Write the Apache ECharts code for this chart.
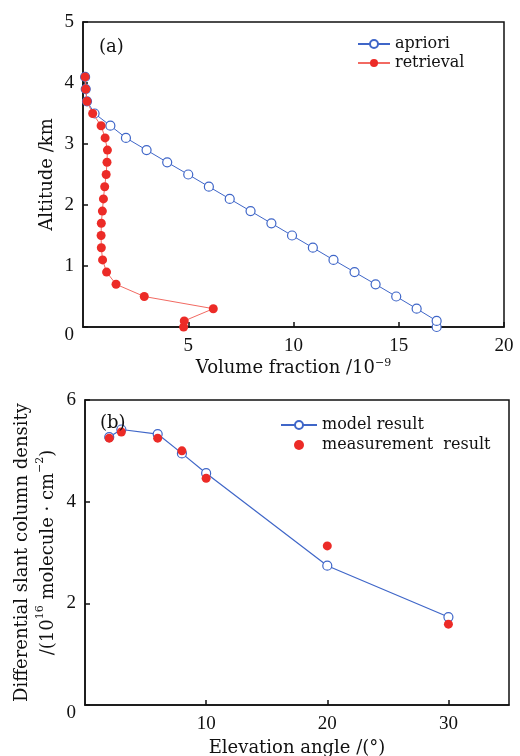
<!DOCTYPE html>
<html>
<head>
<meta charset="utf-8">
<script src="https://cdn.jsdelivr.net/npm/echarts@6/dist/echarts.min.js"></script>
<style>
  html, body { margin: 0; padding: 0; background: #fff; }
  #chart { width: 520px; height: 756px; }
</style>
</head>
<body>
<div id="chart"></div>
<script>
// (a) 廓线：高度 (km) 与体积分数 (10^-9)
const altitudes = [0, 0.1, 0.3, 0.5, 0.7, 0.9, 1.1, 1.3, 1.5, 1.7, 1.9, 2.1, 2.3, 2.5, 2.7, 2.9, 3.1, 3.3, 3.5, 3.7, 3.9, 4.1];
const aprioriVf = [16.8, 16.8, 15.85, 14.88, 13.9, 12.9, 11.9, 10.92, 9.93, 8.95, 7.96, 6.97, 5.98, 5.0, 4.0, 3.02, 2.04, 1.3, 0.55, 0.19, 0.13, 0.1];
const retrievalVf = [4.78, 4.81, 6.19, 2.91, 1.57, 1.12, 0.93, 0.87, 0.86, 0.87, 0.92, 0.97, 1.03, 1.1, 1.14, 1.16, 1.05, 0.86, 0.46, 0.19, 0.13, 0.1];

// (b) 差分斜柱浓度：仰角 (°)
const elevAngles = [2, 3, 6, 8, 10, 20, 30];
const modelDscd = [5.27, 5.42, 5.33, 4.95, 4.56, 2.74, 1.73];
const measDscd = [5.25, 5.37, 5.25, 5.0, 4.46, 3.13, 1.59];

const BLUE = '#3f66c8';
const RED = '#ec2b27';
const RED_LINE = '#f26a62';
const SERIF = '"DejaVu Serif", "Liberation Serif", serif';
const TICK_FONT = '"Liberation Serif", serif';

const pair = (xs, ys) => xs.map((x, i) => [x, ys[i]]);

const chart = echarts.init(document.getElementById('chart'));

const supStyle = { fontFamily: SERIF, fontSize: 11, verticalAlign: 'top', padding: [0, 0, 9, 0] };

const axisCommon = {
    axisLine: { show: true, onZero: false, lineStyle: { color: '#111', width: 1.5 } },
    axisTick: { show: true, inside: true, length: 5, lineStyle: { color: '#111', width: 1.5 } },
    splitLine: { show: false },
    axisLabel: { color: '#111', fontFamily: TICK_FONT, fontSize: 19 },
    nameTextStyle: { color: '#111', fontFamily: SERIF, fontSize: 18 },
    nameMoveOverlap: false
};

// 0 标签放在坐标原点左下方（与原图一致）
const yLabel = {
    ...axisCommon.axisLabel, margin: 9,
    formatter: v => (v === 0 ? '{z|0}' : String(v)),
    rich: { z: { fontFamily: TICK_FONT, fontSize: 19, color: '#111', padding: [16, 0, 0, 0] } }
};

const gridCommon = {
    show: true, borderColor: '#111', borderWidth: 1.5, backgroundColor: 'transparent',
    containLabel: false, outerBoundsMode: 'none'
};

const option = {
    animation: false,
    backgroundColor: '#fff',
    title: [
        { text: '(a)', left: 94, top: 33, textStyle: { fontFamily: SERIF, fontSize: 18, fontWeight: 'normal', color: '#111' } },
        { text: '(b)', left: 95, top: 409, textStyle: { fontFamily: SERIF, fontSize: 18, fontWeight: 'normal', color: '#111' } }
    ],
    legend: [
        {
            data: ['apriori', 'retrieval'],
            orient: 'vertical', left: 352, top: 31,
            itemWidth: 32, itemHeight: 10, itemGap: 3,
            textStyle: { fontFamily: SERIF, fontSize: 16, color: '#111' }
        },
        {
            data: ['model result', 'measurement  result'],
            orient: 'vertical', left: 275, top: 412,
            itemWidth: 36, itemHeight: 10, itemGap: 4,
            textStyle: { fontFamily: SERIF, fontSize: 16, color: '#111' }
        }
    ],
    grid: [
        { ...gridCommon, left: 83, top: 22, width: 421, height: 305 },
        { ...gridCommon, left: 85, top: 400, width: 424, height: 305 }
    ],
    xAxis: [
        {
            ...axisCommon, gridIndex: 0, type: 'value', min: 0, max: 20, interval: 5,
            axisLabel: { ...axisCommon.axisLabel, margin: 10, showMinLabel: false },
            name: 'Volume fraction /10{sup|−9}', nameLocation: 'middle', nameGap: 31,
            nameTextStyle: { ...axisCommon.nameTextStyle, rich: { sup: supStyle } }
        },
        {
            ...axisCommon, gridIndex: 1, type: 'value', min: 0, max: 35, interval: 10,
            axisLabel: { ...axisCommon.axisLabel, margin: 10, showMinLabel: false, showMaxLabel: false },
            name: 'Elevation angle /(°)', nameLocation: 'middle', nameGap: 34
        }
    ],
    yAxis: [
        {
            ...axisCommon, gridIndex: 0, type: 'value', min: 0, max: 5, interval: 1,
            axisLabel: yLabel,
            name: 'Altitude /km', nameLocation: 'middle', nameGap: 27
        },
        {
            ...axisCommon, gridIndex: 1, type: 'value', min: 0, max: 6, interval: 2,
            axisLabel: yLabel,
            name: 'Differential slant column density\n/(10{sup|16} molecule · cm{sup|−2})',
            nameLocation: 'middle', nameGap: 24,
            nameTextStyle: { ...axisCommon.nameTextStyle, lineHeight: 26, rich: { sup: supStyle } }
        }
    ],
    series: [
        {
            name: 'apriori', type: 'line', xAxisIndex: 0, yAxisIndex: 0,
            data: pair(aprioriVf, altitudes),
            symbol: 'circle', symbolSize: 9, showAllSymbol: true, clip: false,
            lineStyle: { color: BLUE, width: 1 },
            itemStyle: { color: '#fff', borderColor: BLUE, borderWidth: 1.2 },
            z: 2
        },
        {
            name: 'retrieval', type: 'line', xAxisIndex: 0, yAxisIndex: 0,
            data: pair(retrievalVf, altitudes),
            symbol: 'circle', symbolSize: 9, showAllSymbol: true, clip: false,
            lineStyle: { color: RED_LINE, width: 1 },
            itemStyle: { color: RED, borderColor: RED, borderWidth: 0 },
            z: 3
        },
        {
            name: 'model result', type: 'line', xAxisIndex: 1, yAxisIndex: 1,
            data: pair(elevAngles, modelDscd),
            symbol: 'circle', symbolSize: 9, showAllSymbol: true, clip: false,
            lineStyle: { color: BLUE, width: 1.2 },
            itemStyle: { color: '#fff', borderColor: BLUE, borderWidth: 1.2 },
            z: 2
        },
        {
            name: 'measurement  result', type: 'scatter', xAxisIndex: 1, yAxisIndex: 1,
            data: pair(elevAngles, measDscd),
            symbol: 'circle', symbolSize: 9, clip: false,
            itemStyle: { color: RED, opacity: 1 },
            z: 3
        }
    ]
};

chart.setOption(option);
</script>
</body>
</html>
